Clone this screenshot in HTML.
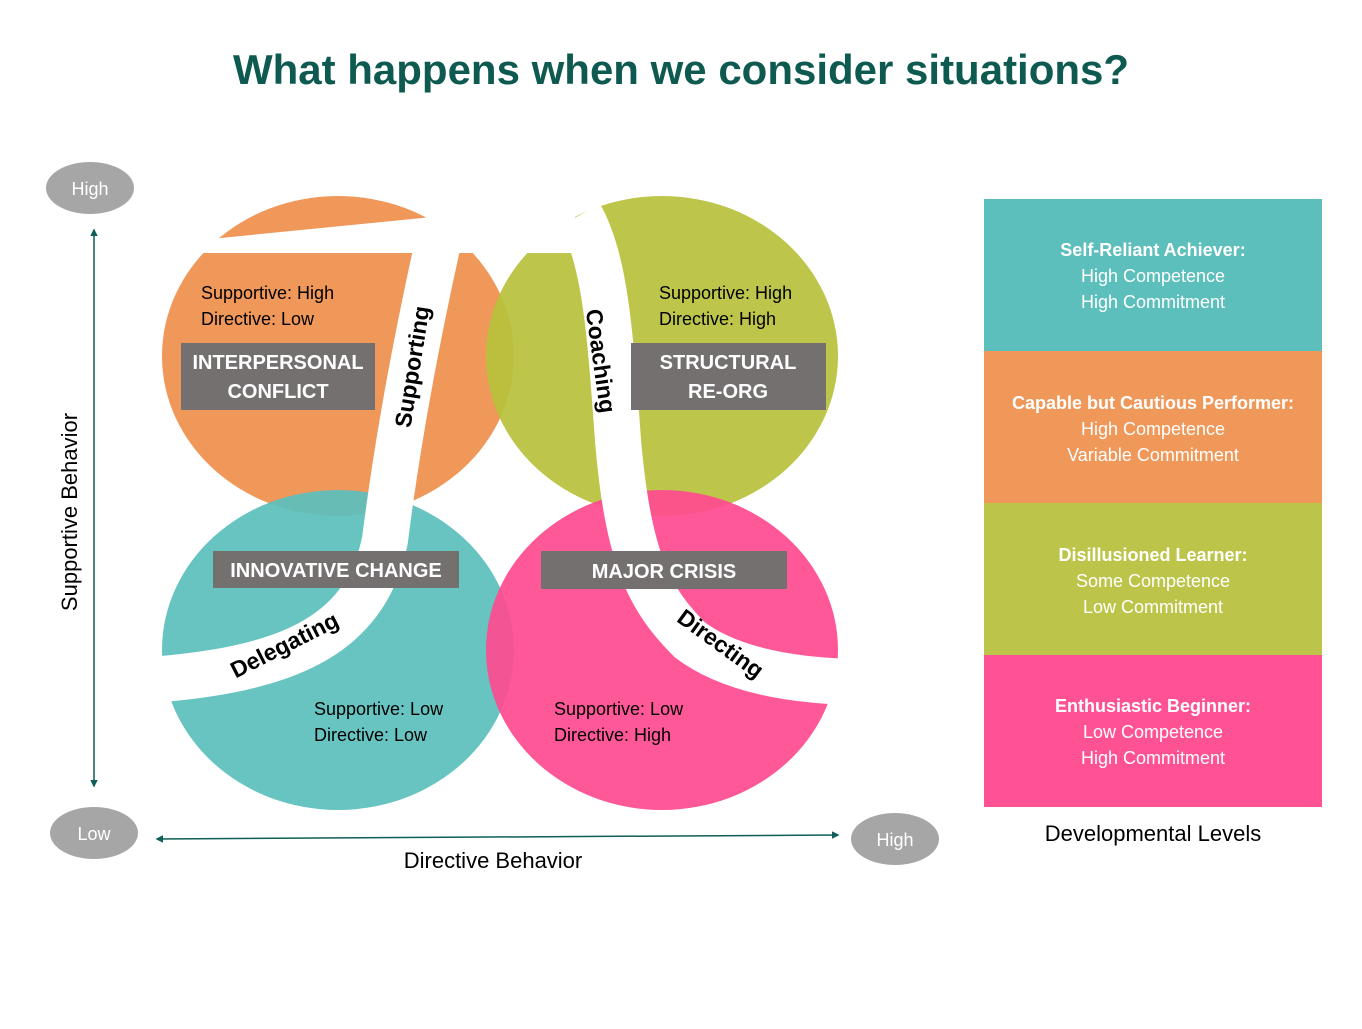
<!DOCTYPE html>
<html><head><meta charset="utf-8"><style>
body{margin:0;background:#fff;}
svg text{font-family:"Liberation Sans",sans-serif;}
</style></head><body>
<svg width="1362" height="1024" viewBox="0 0 1362 1024" xmlns="http://www.w3.org/2000/svg">
<defs>
<marker id="a" viewBox="0 0 10 10" refX="8" refY="5" markerWidth="5" markerHeight="5" orient="auto-start-reverse"><path d="M0,0L10,5L0,10z" fill="#0F5E57"/></marker>
</defs>
<text x="681" y="84" text-anchor="middle" font-size="42" font-weight="bold" fill="#0E5A50">What happens when we consider situations?</text>

<!-- circles -->
<ellipse cx="338" cy="356" rx="176" ry="160" fill="#F0975A"/>
<ellipse cx="662" cy="356" rx="176" ry="160" fill="#B8C23C" opacity="0.93"/>
<ellipse cx="338" cy="650" rx="176" ry="160" fill="#5DBFBC" opacity="0.93"/>
<ellipse cx="662" cy="650" rx="176" ry="160" fill="#FF4A90" opacity="0.92"/>

<!-- white bands -->
<polygon points="150,245 432,217 432,150 575,150 575,253 150,253" fill="#fff"/>
<path d="M442,225 C425,300 400,420 385,540 C365,640 280,670 150,680" fill="none" stroke="#fff" stroke-width="46"/>
<path d="M580,215 C605,260 610,330 618,440 C628,560 650,600 690,640 C730,670 790,680 850,682" fill="none" stroke="#fff" stroke-width="46"/>

<!-- gray boxes -->
<rect x="181" y="343" width="194" height="67" fill="#747070"/>
<rect x="631" y="343" width="195" height="67" fill="#747070"/>
<rect x="213" y="551" width="246" height="37" fill="#747070"/>
<rect x="541" y="551" width="246" height="38" fill="#747070"/>
<g fill="#fff" font-size="20" font-weight="bold" text-anchor="middle">
<text x="278" y="369">INTERPERSONAL</text><text x="278" y="398">CONFLICT</text>
<text x="728" y="369">STRUCTURAL</text><text x="728" y="398">RE-ORG</text>
<text x="336" y="577">INNOVATIVE CHANGE</text>
<text x="664" y="578">MAJOR CRISIS</text>
</g>

<g font-size="18" fill="#000">
<text x="201" y="299">Supportive: High</text><text x="201" y="325">Directive: Low</text>
<text x="659" y="299">Supportive: High</text><text x="659" y="325">Directive: High</text>
<text x="314" y="715">Supportive: Low</text><text x="314" y="741">Directive: Low</text>
<text x="554" y="715">Supportive: Low</text><text x="554" y="741">Directive: High</text>
</g>

<g font-size="23" font-weight="bold" fill="#000" text-anchor="middle">
<text transform="translate(420,368) rotate(-81)">Supporting</text>
<text transform="translate(593,362) rotate(82)">Coaching</text>
<text transform="translate(288,652) rotate(-27)">Delegating</text>
<text transform="translate(716,650) rotate(36)">Directing</text>
</g>

<!-- axes -->
<line x1="94" y1="230" x2="94" y2="786" stroke="#0F5E57" stroke-width="1.5" marker-start="url(#a)" marker-end="url(#a)"/>
<line x1="157" y1="839" x2="838" y2="835" stroke="#0F5E57" stroke-width="1.5" marker-start="url(#a)" marker-end="url(#a)"/>
<g fill="#A6A6A6"><ellipse cx="90" cy="188" rx="44" ry="26"/><ellipse cx="94" cy="833" rx="44" ry="26"/><ellipse cx="895" cy="839" rx="44" ry="26"/></g>
<g fill="#fff" font-size="18" text-anchor="middle">
<text x="90" y="195">High</text><text x="94" y="840">Low</text><text x="895" y="846">High</text>
</g>
<text transform="translate(77,512) rotate(-90)" font-size="22" text-anchor="middle">Supportive Behavior</text>
<text x="493" y="868" font-size="22" text-anchor="middle">Directive Behavior</text>

<!-- right panel -->
<rect x="984" y="199" width="338" height="152" fill="#5DBFBC"/>
<rect x="984" y="351" width="338" height="152" fill="#F0975A"/>
<rect x="984" y="503" width="338" height="152" fill="#BCC54A"/>
<rect x="984" y="655" width="338" height="152" fill="#FF5294"/>
<g fill="#fff" font-size="18" text-anchor="middle">
<text x="1153" y="256" font-weight="bold">Self-Reliant Achiever:</text><text x="1153" y="282">High Competence</text><text x="1153" y="308">High Commitment</text>
<text x="1153" y="409" font-weight="bold">Capable but Cautious Performer:</text><text x="1153" y="435">High Competence</text><text x="1153" y="461">Variable Commitment</text>
<text x="1153" y="561" font-weight="bold">Disillusioned Learner:</text><text x="1153" y="587">Some Competence</text><text x="1153" y="613">Low Commitment</text>
<text x="1153" y="712" font-weight="bold">Enthusiastic Beginner:</text><text x="1153" y="738">Low Competence</text><text x="1153" y="764">High Commitment</text>
</g>
<text x="1153" y="841" font-size="22" text-anchor="middle">Developmental Levels</text>
</svg>
</body></html>
